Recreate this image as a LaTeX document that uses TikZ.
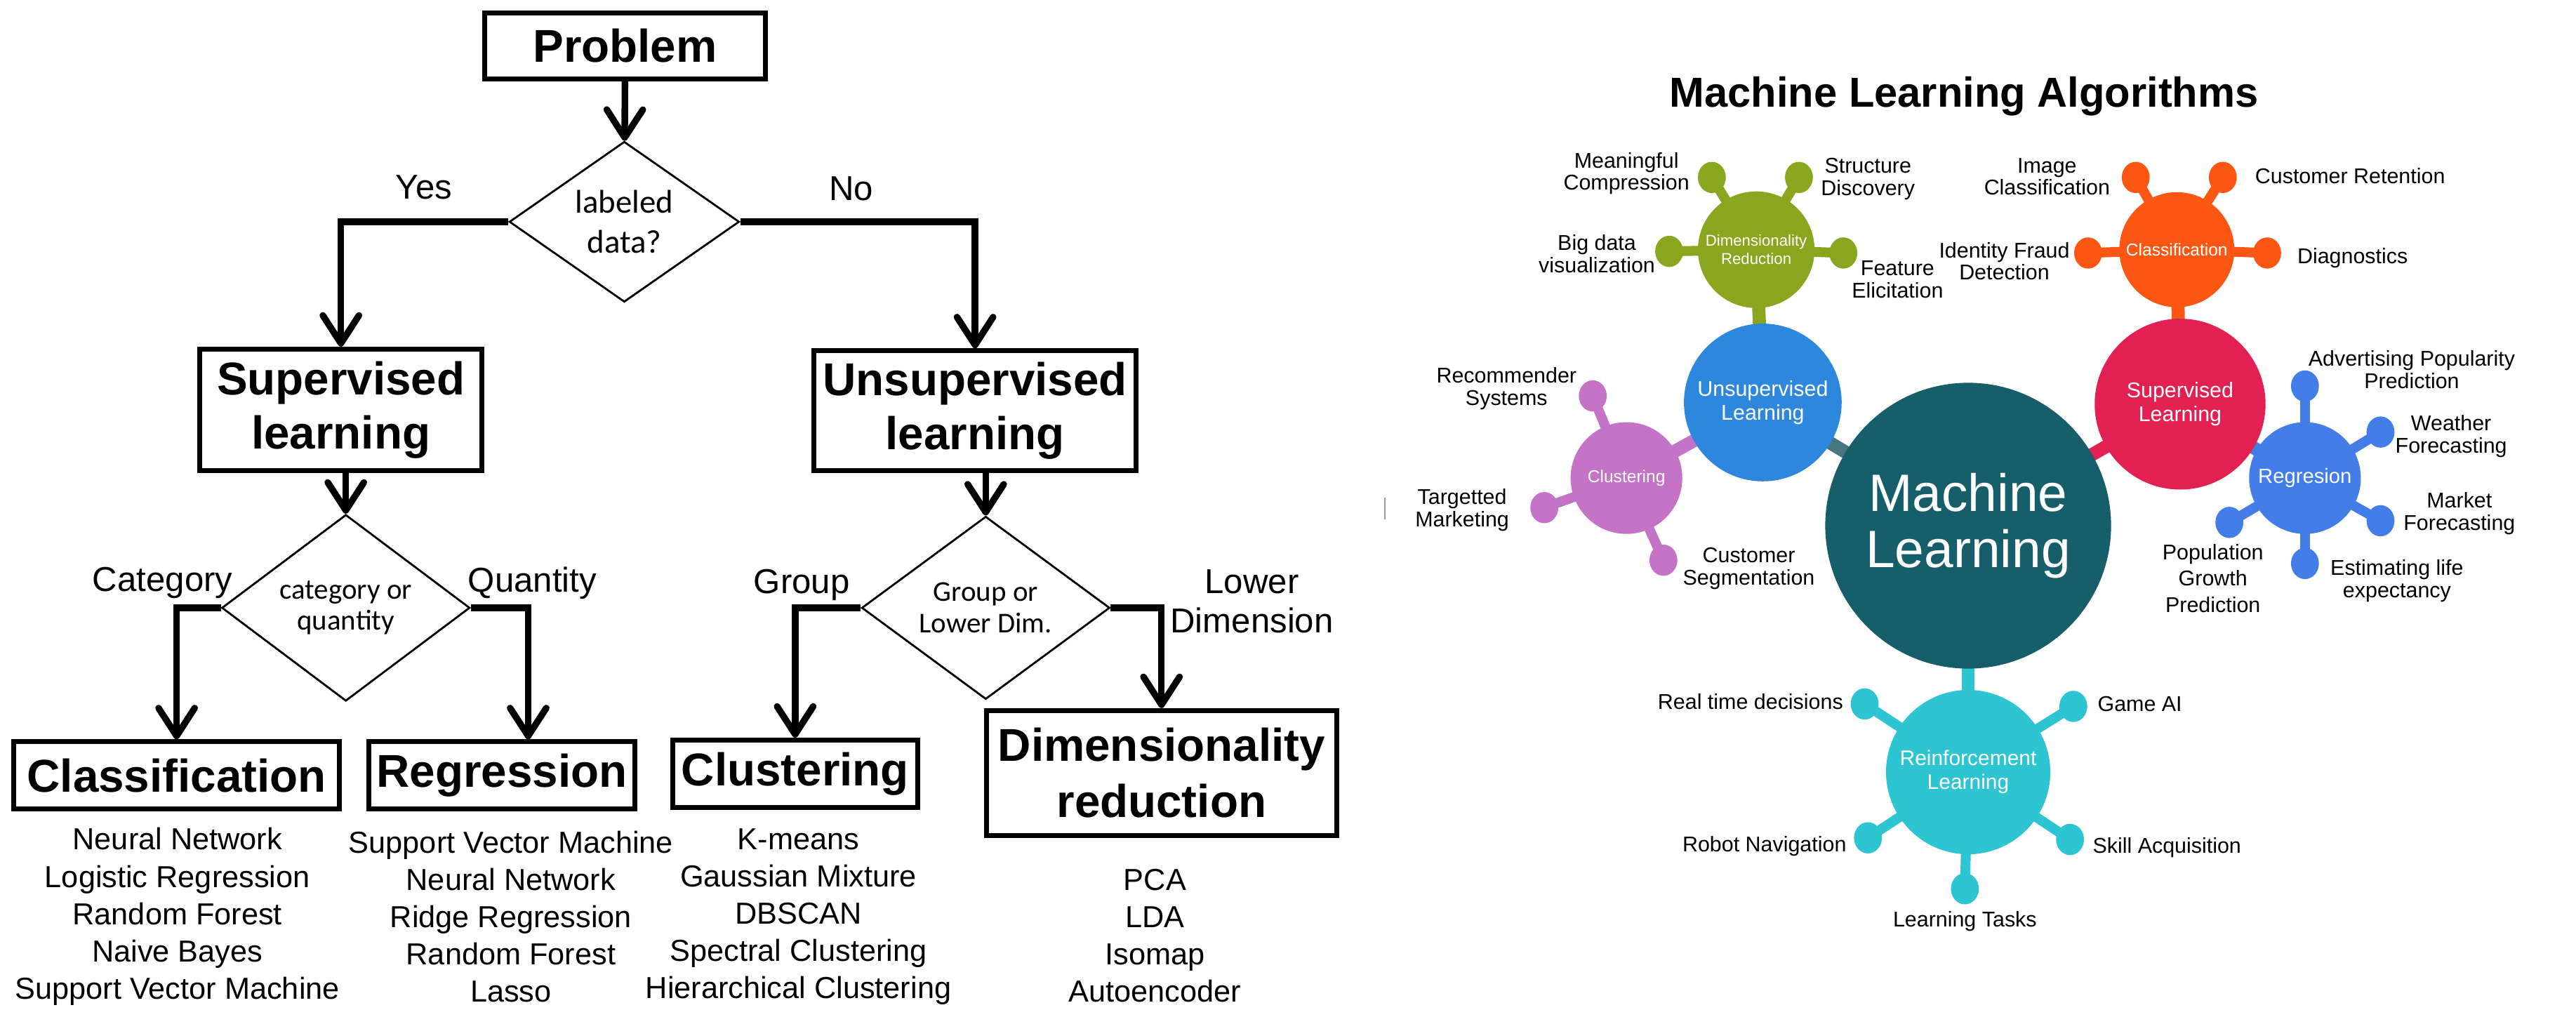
\documentclass[tikz,border=0pt]{standalone}
\usepackage{fontspec}
\setmainfont{Liberation Sans}
\newfontfamily\calibrifont{Carlito}
\usetikzlibrary{shapes.geometric,arrows.meta,backgrounds}

\definecolor{mlteal}{RGB}{22,94,105}
\definecolor{stemgray}{RGB}{72,118,126}
\definecolor{unscol}{RGB}{45,135,220}
\definecolor{supcol}{RGB}{227,32,82}
\definecolor{rlcol}{RGB}{45,197,210}
\definecolor{dimcol}{RGB}{138,165,30}
\definecolor{clscol}{RGB}{251,87,18}
\definecolor{clucol}{RGB}{197,115,199}
\definecolor{regcol}{RGB}{67,125,232}

\begin{document}
\begin{tikzpicture}[x=1pt,y=-1pt,
  box/.style={draw,line width=3pt,inner sep=0pt,align=center,font=\bfseries\fontsize{28}{33}\selectfont},
  ask/.style={diamond,draw,line width=1.2pt,inner sep=0pt,align=center,font=\calibrifont\fontsize{17.5}{19}\selectfont},
  lab/.style={align=center,font=\fontsize{21}{24}\selectfont},
  algo/.style={align=center,font=\fontsize{18.5}{22.7}\selectfont},
  arr/.style={line width=4pt,-{Straight Barb[length=17pt,width=22pt,round]}},
  hub/.style={circle,inner sep=0pt,text=white,align=center},
  bulb/.style={ellipse,minimum width=17pt,minimum height=19pt,inner sep=0pt},
  stem/.style={line width=6pt},
  tag/.style={align=center,font=\fontsize{13}{13.5}\selectfont}]

    \useasboundingbox (0,0) rectangle (1568,619);

    \node[box,minimum width=171pt,minimum height=40pt] (prob) at (380.5,28) {Problem};
    \node[ask,minimum width=140pt,minimum height=89pt,font=\calibrifont\fontsize{20}{24}\selectfont] (q1) at (380,135) {labeled\\data?};
    \node[box,minimum width=172pt,minimum height=74pt] (sup) at (207.5,249.5) {Supervised\\learning};
    \node[box,minimum width=196pt,minimum height=73pt] (uns) at (593.5,250) {Unsupervised\\learning};
    \node[ask,minimum width=151pt,minimum height=96pt] (q2) at (210.5,370) {category or\\quantity};
    \node[ask,minimum width=151pt,minimum height=95pt] (q3) at (600,370) {Group or\\Lower Dim.};
    \node[box,minimum width=198pt,minimum height=41pt] (cls) at (107.5,472) {Classification};
    \node[box,minimum width=162pt,minimum height=41pt] (reg) at (305.5,472) {Regression};
    \node[box,minimum width=149pt,minimum height=41pt] (clu) at (484,471) {Clustering};
    \node[box,minimum width=213pt,minimum height=76pt,font=\bfseries\fontsize{28}{34}\selectfont] (dim) at (707,470.5) {Dimensionality\\reduction};

    \node[lab] (yes) at (258,114) {Yes};
    \node[lab] (no) at (518,115) {No};
    \node[lab] (cat) at (99,355) {Category};
    \node[lab] (qty) at (324,355) {Quantity};
    \node[lab] (grp) at (488,356) {Group};
    \node[lab] (low) at (762,366) {Lower\\Dimension};

    \node[algo] (clsl) at (108,558) {Neural Network\\Logistic Regression\\Random Forest\\Naive Bayes\\Support Vector Machine};
    \node[algo] (regl) at (311,558) {Support Vector Machine\\Neural Network\\Ridge Regression\\Random Forest\\Lasso};
    \node[algo] (clul) at (486,558) {K-means\\Gaussian Mixture\\DBSCAN\\Spectral Clustering\\Hierarchical Clustering};
    \node[algo] (diml) at (703,569.5) {PCA\\LDA\\Isomap\\Autoencoder};

    \draw[arr] (prob) -- (q1);
    \draw[arr] (q1) -| (sup);
    \draw[arr] (q1) -| (uns);
    \draw[arr] (sup.south -| q2.north) -- (q2.north);
    \draw[arr] (q2) -| (cls);
    \draw[arr] (q2) -| ([xshift=16pt]reg.north);
    \draw[arr] (uns.south -| q3.north) -- (q3.north);
    \draw[arr] (q3) -| (clu);
    \draw[arr] (q3) -| (dim);

    \node[font=\bfseries\fontsize{25.5}{28}\selectfont] (title) at (1195.5,58.5) {Machine Learning Algorithms};

    \node[hub,fill=mlteal,minimum size=174pt,font=\fontsize{32}{34}\selectfont] (ml) at (1198,320) {Machine\\Learning};
    \node[hub,fill=unscol,minimum size=96pt,font=\fontsize{13}{14.5}\selectfont] (uns2) at (1073,245) {Unsupervised\\Learning};
    \node[hub,fill=supcol,minimum size=104pt,font=\fontsize{13}{14.5}\selectfont] (sup2) at (1327,246) {Supervised\\Learning};
    \node[hub,fill=rlcol,minimum size=100pt,font=\fontsize{12.8}{14.5}\selectfont] (rl) at (1198,470) {Reinforcement\\Learning};
    \node[hub,fill=dimcol,minimum size=71pt,font=\fontsize{9.5}{11}\selectfont] (dr) at (1069,152) {Dimensionality\\Reduction};
    \node[hub,fill=clscol,minimum size=70pt,font=\fontsize{10.5}{12}\selectfont] (cl) at (1325,152) {Classification};
    \node[hub,fill=clucol,minimum size=68pt,font=\fontsize{10.5}{12}\selectfont] (cu) at (990,291) {Clustering};
    \node[hub,fill=regcol,minimum size=68pt,font=\fontsize{12.5}{14}\selectfont] (rg) at (1403,291) {Regresion};

    \node[bulb,fill=dimcol] (dr1) at (1042,108) {};
    \node[bulb,fill=dimcol] (dr2) at (1095,108) {};
    \node[bulb,fill=dimcol] (dr3) at (1016,153) {};
    \node[bulb,fill=dimcol] (dr4) at (1122,154) {};
    \node[bulb,fill=clscol] (cl1) at (1300,108) {};
    \node[bulb,fill=clscol] (cl2) at (1353,108) {};
    \node[bulb,fill=clscol] (cl3) at (1271,154) {};
    \node[bulb,fill=clscol] (cl4) at (1380,154) {};
    \node[bulb,fill=clucol] (cu1) at (969.5,241) {};
    \node[bulb,fill=clucol] (cu2) at (940,309) {};
    \node[bulb,fill=clucol] (cu3) at (1012.5,341) {};
    \node[bulb,fill=regcol] (rg1) at (1403,235) {};
    \node[bulb,fill=regcol] (rg2) at (1449,263) {};
    \node[bulb,fill=regcol] (rg3) at (1449,317) {};
    \node[bulb,fill=regcol] (rg4) at (1403,343) {};
    \node[bulb,fill=regcol] (rg5) at (1357,318) {};
    \node[bulb,fill=rlcol] (rl1) at (1135,428.5) {};
    \node[bulb,fill=rlcol] (rl2) at (1262,430) {};
    \node[bulb,fill=rlcol] (rl3) at (1137,510) {};
    \node[bulb,fill=rlcol] (rl4) at (1260,511) {};
    \node[bulb,fill=rlcol] (rl5) at (1196,541) {};

    \begin{scope}[on background layer]
    \draw[stem,line width=8pt,stemgray] (ml.center) -- (uns2.center);
    \draw[stem,line width=8pt,supcol] (ml.center) -- (sup2.center);
    \draw[stem,line width=8pt,rlcol] (ml.center) -- (rl.center);
    \draw[stem,line width=8pt,dimcol] (uns2.center) -- (dr.center);
    \draw[stem,line width=8pt,clucol] (uns2.center) -- (cu.center);
    \draw[stem,line width=8pt,clscol] (sup2.center) -- (cl.center);
    \draw[stem,line width=8pt,regcol] (sup2.center) -- (rg.center);
    \draw[stem,dimcol] (dr.center) -- (dr1.center);
    \draw[stem,dimcol] (dr.center) -- (dr2.center);
    \draw[stem,dimcol] (dr.center) -- (dr3.center);
    \draw[stem,dimcol] (dr.center) -- (dr4.center);
    \draw[stem,clscol] (cl.center) -- (cl1.center);
    \draw[stem,clscol] (cl.center) -- (cl2.center);
    \draw[stem,clscol] (cl.center) -- (cl3.center);
    \draw[stem,clscol] (cl.center) -- (cl4.center);
    \draw[stem,clucol] (cu.center) -- (cu1.center);
    \draw[stem,clucol] (cu.center) -- (cu2.center);
    \draw[stem,clucol] (cu.center) -- (cu3.center);
    \draw[stem,regcol] (rg.center) -- (rg1.center);
    \draw[stem,regcol] (rg.center) -- (rg2.center);
    \draw[stem,regcol] (rg.center) -- (rg3.center);
    \draw[stem,regcol] (rg.center) -- (rg4.center);
    \draw[stem,regcol] (rg.center) -- (rg5.center);
    \draw[stem,rlcol] (rl.center) -- (rl1.center);
    \draw[stem,rlcol] (rl.center) -- (rl2.center);
    \draw[stem,rlcol] (rl.center) -- (rl3.center);
    \draw[stem,rlcol] (rl.center) -- (rl4.center);
    \draw[stem,rlcol] (rl.center) -- (rl5.center);
    \end{scope}

    \node[tag] (t1) at (990,105.5) {Meaningful\\Compression};
    \node[tag] (t2) at (1137,109) {Structure\\Discovery};
    \node[tag] (t3) at (972,154.5) {Big data\\visualization};
    \node[tag] (t4) at (1155,170) {Feature\\Elicitation};
    \node[tag] (t5) at (1246,107.5) {Image\\Classification};
    \node[tag] (t6) at (1220,159) {Identity Fraud\\Detection};
    \node[tag] (t7) at (1430.5,107) {Customer Retention};
    \node[tag] (t8) at (1432,157) {Diagnostics};
    \node[tag] (t9) at (1468,225) {Advertising Popularity\\Prediction};
    \node[tag] (t10) at (1492,265.5) {Weather\\Forecasting};
    \node[tag] (t11) at (1497,312.5) {Market\\Forecasting};
    \node[tag] (t12) at (1459,353.5) {Estimating life\\expectancy};
    \node[tag,font=\fontsize{13}{16}\selectfont] (t13) at (1347,352) {Population\\Growth\\Prediction};
    \node[tag] (t14) at (917,236.5) {Recommender\\Systems};
    \node[tag] (t15) at (890,310.5) {Targetted\\Marketing};
    \node[tag] (t16) at (1064.5,346) {Customer\\Segmentation};
    \node[tag] (t17) at (1065.5,427) {Real time decisions};
    \node[tag] (t18) at (1302.5,428.5) {Game AI};
    \node[tag] (t19) at (1074,515) {Robot Navigation};
    \node[tag] (t20) at (1319,516) {Skill Acquisition};
    \node[tag] (t21) at (1196,561) {Learning Tasks};

    \draw[black!40,line width=0.7pt] (843,303) -- (843,316);
\end{tikzpicture}
\end{document}
